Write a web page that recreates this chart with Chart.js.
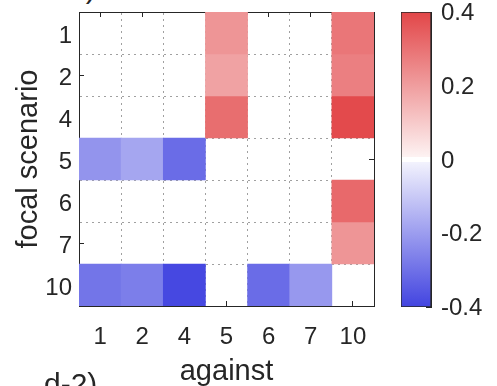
<!DOCTYPE html>
<html>
<head>
<meta charset="utf-8">
<script src="https://cdn.jsdelivr.net/npm/chart.js@4.4.0/dist/chart.umd.min.js"></script>
<style>
  html, body { margin: 0; padding: 0; background: #fff; overflow: hidden; }
  body { width: 497px; height: 386px; position: relative; font-family: "Liberation Sans", Arial, sans-serif; color: #262626; }
  #heat { position: absolute; left: 0; top: 0; }
  #cbar { position: absolute; left: 395px; top: 0; }
  .tag { position: absolute; left: 44px; font-size: 30px; line-height: 1; white-space: nowrap; }
</style>
</head>
<body>
<div class="tag" style="top:-27px">c-2)</div>
<canvas id="heat" width="380" height="386"></canvas>
<canvas id="cbar" width="102" height="386"></canvas>
<div class="tag" style="top:369px">d-2)</div>
<script>
// scenarios on each axis
const cols = ['1', '2', '4', '5', '6', '7', '10'];
const rows = ['1', '2', '4', '5', '6', '7', '10'];

// effect of each focal scenario (row) against the others (columns); null = no entry
const focal1  = [null, null, null, 0.22, null, null, 0.29];
const focal2  = [null, null, null, 0.19, null, null, 0.27];
const focal4  = [null, null, null, 0.31, null, null, 0.39];
const focal5  = [-0.22, -0.18, -0.31, null, null, null, null];
const focal6  = [null, null, null, null, null, null, 0.32];
const focal7  = [null, null, null, null, null, null, 0.22];
const focal10 = [-0.29, -0.27, -0.39, null, -0.31, -0.21, null];
const matrix = [focal1, focal2, focal4, focal5, focal6, focal7, focal10];

// which labels get a tick mark on the frame
const tickedCols = ['1', '2', '5', '6', '7', '10'];
const tickedRows = ['2', '5', '7'];

// colour bar
const cbarTicks = [-0.4, -0.2, 0, 0.2, 0.4];
const CMIN = -0.4, CMAX = 0.4;

const INK = '#262626';
const GRID = '#a0a0a0';
const RED = [226, 70, 72];
const BLUE = [66, 68, 224];
const ZERO_BAND = 0.008;
const FLOOR = 0.05;

Chart.defaults.font.family = '"Liberation Sans", Arial, Helvetica, sans-serif';

// diverging white-centred map
function shade(v) {
  if (v === null || Math.abs(v) < ZERO_BAND) return 'rgb(255,255,255)';
  const end = v > 0 ? RED : BLUE;
  const t = FLOOR + (1 - FLOOR) * Math.min(Math.abs(v) / CMAX, 1);
  const c = end.map(e => Math.round(255 + (e - 255) * t));
  return 'rgb(' + c.join(',') + ')';
}

const centers = cols.map((_, i) => i);
const edges = [...centers.map(i => i - 0.5), cols.length - 0.5];
const lastIdx = cols.length - 1;
const isInner = v => v > -0.5 && v < lastIdx + 0.5 && !Number.isInteger(v);
const allTicks = [...edges, ...centers].sort((a, b) => a - b);
const tickFont = { size: 24, lineHeight: 1 };

// keep the plot box where afterFit puts it
const fixSize = (dim, px) => s => {
  s[dim] = px;
  s.paddingTop = s.paddingBottom = s.paddingLeft = s.paddingRight = 0;
};

// one floating bar per filled cell, one dataset per focal row
const datasets = matrix.map((vals, r) => ({
  label: 'focal ' + rows[r],
  data: vals.map((v, c) => v === null ? null : { x: c, y: [r - 0.5, r + 0.5], v: v })
            .filter(d => d !== null),
  backgroundColor: ctx => shade(ctx.raw ? ctx.raw.v : null),
  borderWidth: 0,
  grouped: false,
  categoryPercentage: 1,
  barPercentage: 1,
}));

new Chart(document.getElementById('heat'), {
  type: 'bar',
  data: { datasets },
  options: {
    responsive: false,
    animation: false,
    events: [],
    plugins: { legend: { display: false }, tooltip: { enabled: false } },
    scales: {
      x: {
        type: 'linear', position: 'bottom', min: -0.5, max: lastIdx + 0.5, offset: false,
        afterBuildTicks: s => { s.ticks = centers.map(v => ({ value: v })); },
        afterFit: fixSize('height', 80),
        ticks: { autoSkip: false, maxRotation: 0, padding: 24, font: tickFont, color: INK,
                 callback: v => cols[v] },
        grid: {
          offset: false, drawOnChartArea: false, tickLength: -5,
          tickColor: ctx => ctx.tick && tickedCols.includes(cols[ctx.tick.value]) ? INK : 'transparent',
        },
        border: { color: INK, width: 1 },
        title: { display: true, text: 'against', color: INK,
                 font: { size: 29, lineHeight: 1 }, padding: { top: 0, bottom: 0 } },
      },
      x2: {
        type: 'linear', axis: 'x', position: 'top', min: -0.5, max: lastIdx + 0.5, offset: false,
        afterBuildTicks: s => { s.ticks = allTicks.map(v => ({ value: v })); },
        afterFit: fixSize('height', 12),
        ticks: { display: false },
        grid: {
          offset: false, tickLength: -5,
          color: ctx => ctx.tick && isInner(ctx.tick.value) ? GRID : 'transparent',
          tickColor: ctx => ctx.tick && Number.isInteger(ctx.tick.value) &&
                            tickedCols.includes(cols[ctx.tick.value]) ? INK : 'transparent',
        },
        border: { color: INK, width: 1, dash: [2, 4] },
      },
      y: {
        type: 'linear', position: 'left', min: -0.5, max: lastIdx + 0.5, reverse: true,
        afterBuildTicks: s => { s.ticks = allTicks.map(v => ({ value: v })); },
        afterFit: fixSize('width', 79),
        ticks: { autoSkip: false, padding: 12, labelOffset: 3, font: tickFont, color: INK,
                 callback: v => Number.isInteger(v) ? rows[v] : '' },
        grid: {
          tickLength: -5,
          color: ctx => ctx.tick && isInner(ctx.tick.value) ? GRID : 'transparent',
          tickColor: ctx => ctx.tick && Number.isInteger(ctx.tick.value) &&
                            tickedRows.includes(rows[ctx.tick.value]) ? INK : 'transparent',
        },
        border: { color: INK, width: 1, dash: [2, 4] },
        title: { display: true, text: 'focal scenario', color: INK,
                 font: { size: 29, lineHeight: 1 }, padding: { top: 14, bottom: 0 } },
      },
      y2: {
        type: 'linear', axis: 'y', position: 'right', min: -0.5, max: lastIdx + 0.5, reverse: true,
        afterBuildTicks: s => { s.ticks = centers.map(v => ({ value: v })); },
        afterFit: fixSize('width', 6),
        ticks: { display: false },
        grid: {
          drawOnChartArea: false, tickLength: -5,
          tickColor: ctx => ctx.tick && tickedRows.includes(rows[ctx.tick.value]) ? INK : 'transparent',
        },
        border: { color: INK, width: 1 },
      },
    },
  },
});

// colour bar: a single floating bar filled with the same map
function barGradient(chart) {
  const y = chart.scales.y;
  if (!y || !chart.chartArea) return 'white';
  const g = chart.ctx.createLinearGradient(0, y.getPixelForValue(CMIN), 0, y.getPixelForValue(CMAX));
  const stops = [CMIN, -ZERO_BAND, -ZERO_BAND + 1e-6, ZERO_BAND - 1e-6, ZERO_BAND, CMAX];
  stops.forEach(v => g.addColorStop((v - CMIN) / (CMAX - CMIN), shade(v)));
  return g;
}

new Chart(document.getElementById('cbar'), {
  type: 'bar',
  data: {
    labels: [''],
    datasets: [{
      data: [[CMIN, CMAX]],
      backgroundColor: ctx => barGradient(ctx.chart),
      borderColor: INK,
      borderWidth: 1,
      borderSkipped: false,
      categoryPercentage: 1,
      barPercentage: 1,
    }],
  },
  options: {
    responsive: false,
    animation: false,
    events: [],
    layout: { padding: { left: 6, top: 12, bottom: 79, right: 0 } },
    plugins: { legend: { display: false }, tooltip: { enabled: false } },
    scales: {
      x: { display: false },
      y: {
        position: 'right', min: CMIN, max: CMAX,
        afterBuildTicks: s => { s.ticks = cbarTicks.map(v => ({ value: v })); },
        afterFit: fixSize('width', 66),
        ticks: { padding: 15, labelOffset: 1.5, font: tickFont, color: INK, callback: v => String(v) },
        grid: { drawOnChartArea: false, tickLength: -5, color: INK },
        border: { color: INK, width: 1 },
      },
    },
  },
});
</script>
</body>
</html>
